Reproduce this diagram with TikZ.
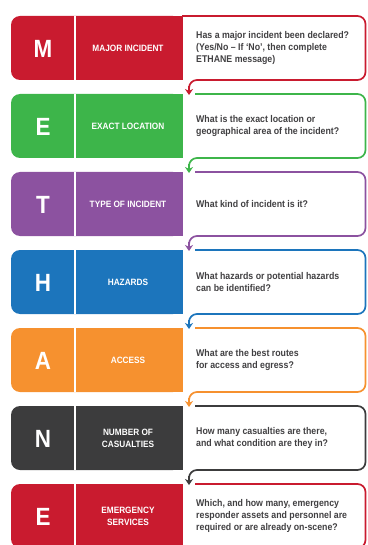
\documentclass[tikz,border=0pt]{standalone}
\usepackage{fontspec}
\setmainfont{Liberation Sans}[FakeStretch=0.9]
\usetikzlibrary{arrows.meta}
\definecolor{cRed}{HTML}{C91B2F}
\definecolor{cGreen}{HTML}{3DB54A}
\definecolor{cPurple}{HTML}{8C52A0}
\definecolor{cBlue}{HTML}{1C75BC}
\definecolor{cOrange}{HTML}{F6912F}
\definecolor{cGray}{HTML}{3C3C3D}
\definecolor{cText}{HTML}{414042}
\tikzset{
  letter/.style={text=white,font=\bfseries\fontsize{25}{25}\selectfont,inner sep=0pt},
  label/.style={text=white,font=\bfseries\fontsize{9.2}{12}\selectfont,align=center,inner sep=0pt},
  question/.style={text=cText,font=\bfseries\fontsize{9.8}{12.5}\selectfont,align=left,anchor=west,inner sep=0pt},
  outline/.style={line width=1.7pt,rounded corners=8bp},
  pointer/.style={line width=1.7pt,-{Stealth[length=6bp,width=8bp]}}
}
\begin{document}
\begin{tikzpicture}[x=1bp,y=-1bp]
\useasboundingbox (0,0) rectangle (367,545);
\clip (0,0) rectangle (367,545);
\foreach \idx/\col/\ltr/\lab/\qq/\frst in {
  0/cRed/M/{MAJOR INCIDENT}/{Has a major incident been declared?\\(Yes/No -- If ‘No’, then complete\\ETHANE message)}/1,
  1/cGreen/E/{EXACT LOCATION}/{What is the exact location or\\geographical area of the incident?}/0,
  2/cPurple/T/{TYPE OF INCIDENT}/{What kind of incident is it?}/0,
  3/cBlue/H/{HAZARDS}/{What hazards or potential hazards\\can be identified?}/0,
  4/cOrange/A/{ACCESS}/{What are the best routes\\for access and egress?}/0,
  5/cGray/N/{NUMBER OF\\CASUALTIES}/{How many casualties are there,\\and what condition are they in?}/0,
  6/cRed/E/{EMERGENCY\\SERVICES}/{Which, and how many, emergency\\responder assets and personnel are\\required or are already on-scene?}/0}{
  \pgfmathsetmacro{\T}{16+78*\idx}
  \pgfmathsetmacro{\B}{\T+64}
  \pgfmathsetmacro{\M}{\T+32}
  \pgfmathsetmacro{\N}{\T+78}
  \pgfmathsetmacro{\S}{ifthenelse(\frst==1,182,195)}
  % block
  \fill[\col,rounded corners=9bp] (182,\T) -- (11,\T) -- (11,\B) -- (182,\B) -- cycle;
  \fill[\col] (170,\T) rectangle (182.5,\B);
  \draw[white,line width=2bp] (75,\T) -- (75,\B);
  % outline with pointer
  \coordinate (s\idx) at (\S,\T);
  \coordinate (e\idx) at (189,\N+1);
  \draw[\col,outline] (s\idx) -- (365.5,\T) -- (365.5,\B) -- (189,\B) -- (189,\B+10);
  \draw[\col,pointer] (189,\B+6) -- (e\idx);
  % texts
  \node[letter] (l\idx) at (43,\M+0.5) {\ltr};
  \node[label] (t\idx) at (128,\M) {\lab};
  \node[question] (q\idx) at (196,\M) {\qq};
}
\end{tikzpicture}
\end{document}
